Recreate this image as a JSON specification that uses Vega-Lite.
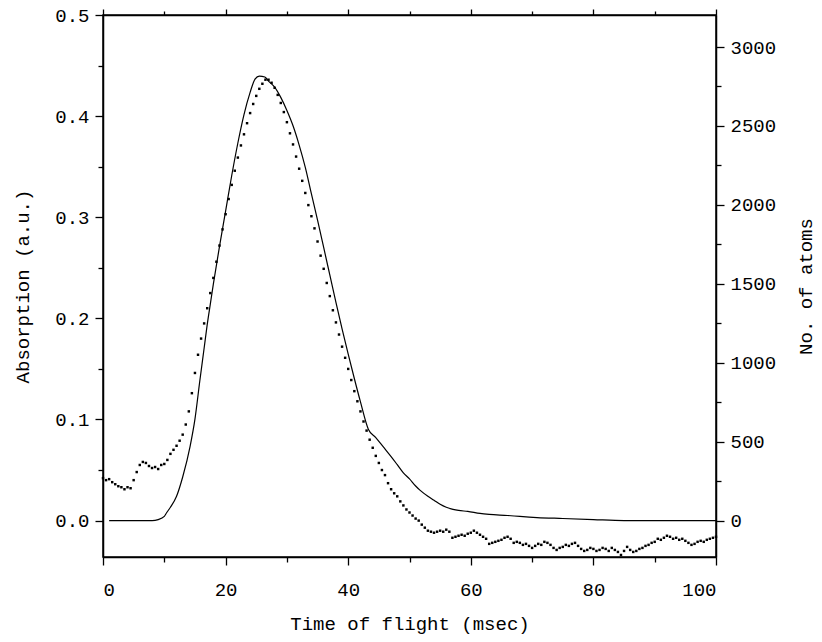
{
  "$schema": "https://vega.github.io/schema/vega-lite/v6.json",
  "width": 613,
  "height": 542,
  "autosize": {"type": "none"},
  "padding": {"left": 103, "top": 15, "right": 106, "bottom": 85},
  "background": "white",
  "config": {
    "view": {"stroke": "black", "strokeWidth": 1.5},
    "axis": {
      "labelFont": "Liberation Mono", "titleFont": "Liberation Mono",
      "labelFontSize": 19, "titleFontSize": 19, "titleFontWeight": "normal",
      "labelColor": "black", "titleColor": "black", "domainColor": "black", "tickColor": "black",
      "grid": false, "domainWidth": 1.5, "tickWidth": 1.3, "labelOverlap": false
    }
  },
  "datasets": {
    "abs": [
      {"t":0,"a":0.042},{"t":0.5,"a":0.040},{"t":1,"a":0.041},{"t":1.5,"a":0.038},{"t":2,"a":0.036},{"t":2.5,"a":0.034},{"t":3,"a":0.033},{"t":3.5,"a":0.031},{"t":4,"a":0.033},{"t":4.5,"a":0.032},
      {"t":5,"a":0.040},{"t":5.5,"a":0.048},{"t":6,"a":0.055},{"t":6.5,"a":0.058},{"t":7,"a":0.057},{"t":7.5,"a":0.054},{"t":8,"a":0.052},{"t":8.5,"a":0.053},{"t":9,"a":0.051},{"t":9.5,"a":0.055},
      {"t":10,"a":0.056},{"t":10.5,"a":0.060},{"t":11,"a":0.066},{"t":11.5,"a":0.070},{"t":12,"a":0.074},{"t":12.5,"a":0.079},{"t":13,"a":0.085},{"t":13.5,"a":0.095},{"t":14,"a":0.108},{"t":14.5,"a":0.126},
      {"t":15,"a":0.146},{"t":15.5,"a":0.164},{"t":16,"a":0.180},{"t":16.5,"a":0.195},{"t":17,"a":0.210},{"t":17.5,"a":0.225},{"t":18,"a":0.240},{"t":18.5,"a":0.256},{"t":19,"a":0.272},{"t":19.5,"a":0.288},
      {"t":20,"a":0.303},{"t":20.5,"a":0.318},{"t":21,"a":0.332},{"t":21.5,"a":0.346},{"t":22,"a":0.359},{"t":22.5,"a":0.371},{"t":23,"a":0.382},{"t":23.5,"a":0.393},{"t":24,"a":0.403},{"t":24.5,"a":0.412},
      {"t":25,"a":0.420},{"t":25.5,"a":0.427},{"t":26,"a":0.432},{"t":26.5,"a":0.436},{"t":27,"a":0.436},{"t":27.5,"a":0.433},{"t":28,"a":0.428},{"t":28.5,"a":0.421},{"t":29,"a":0.413},{"t":29.5,"a":0.404},
      {"t":30,"a":0.394},{"t":30.5,"a":0.383},{"t":31,"a":0.372},{"t":31.5,"a":0.360},{"t":32,"a":0.348},{"t":32.5,"a":0.336},{"t":33,"a":0.324},{"t":33.5,"a":0.312},{"t":34,"a":0.301},{"t":34.5,"a":0.289},
      {"t":35,"a":0.276},{"t":35.5,"a":0.262},{"t":36,"a":0.249},{"t":36.5,"a":0.235},{"t":37,"a":0.222},{"t":37.5,"a":0.208},{"t":38,"a":0.196},{"t":38.5,"a":0.184},{"t":39,"a":0.172},{"t":39.5,"a":0.161},
      {"t":40,"a":0.150},{"t":40.5,"a":0.139},{"t":41,"a":0.128},{"t":41.5,"a":0.118},{"t":42,"a":0.108},{"t":42.5,"a":0.098},{"t":43,"a":0.089},{"t":43.5,"a":0.080},{"t":44,"a":0.072},{"t":44.5,"a":0.064},
      {"t":45,"a":0.057},{"t":45.5,"a":0.050},{"t":46,"a":0.045},{"t":46.5,"a":0.037},{"t":47,"a":0.031},{"t":47.5,"a":0.027},{"t":48,"a":0.024},{"t":48.5,"a":0.019},{"t":49,"a":0.015},{"t":49.5,"a":0.011},
      {"t":50,"a":0.008},{"t":50.5,"a":0.005},{"t":51,"a":0.002},{"t":51.5,"a":0.000},{"t":52,"a":-0.004},{"t":52.5,"a":-0.007},{"t":53,"a":-0.010},{"t":53.5,"a":-0.011},{"t":54,"a":-0.012},{"t":54.5,"a":-0.011},
      {"t":55,"a":-0.010},{"t":55.5,"a":-0.011},{"t":56,"a":-0.009},{"t":56.5,"a":-0.011},{"t":57,"a":-0.017},{"t":57.5,"a":-0.016},{"t":58,"a":-0.015},{"t":58.5,"a":-0.014},{"t":59,"a":-0.015},{"t":59.5,"a":-0.013},
      {"t":60,"a":-0.012},{"t":60.5,"a":-0.010},{"t":61,"a":-0.012},{"t":61.5,"a":-0.014},{"t":62,"a":-0.016},{"t":62.5,"a":-0.018},{"t":63,"a":-0.023},{"t":63.5,"a":-0.022},{"t":64,"a":-0.021},{"t":64.5,"a":-0.020},
      {"t":65,"a":-0.019},{"t":65.5,"a":-0.017},{"t":66,"a":-0.016},{"t":66.5,"a":-0.018},{"t":67,"a":-0.022},{"t":67.5,"a":-0.021},{"t":68,"a":-0.022},{"t":68.5,"a":-0.024},{"t":69,"a":-0.023},{"t":69.5,"a":-0.025},
      {"t":70,"a":-0.027},{"t":70.5,"a":-0.025},{"t":71,"a":-0.023},{"t":71.5,"a":-0.024},{"t":72,"a":-0.021},{"t":72.5,"a":-0.022},{"t":73,"a":-0.024},{"t":73.5,"a":-0.027},{"t":74,"a":-0.029},{"t":74.5,"a":-0.027},
      {"t":75,"a":-0.026},{"t":75.5,"a":-0.024},{"t":76,"a":-0.025},{"t":76.5,"a":-0.023},{"t":77,"a":-0.022},{"t":77.5,"a":-0.025},{"t":78,"a":-0.028},{"t":78.5,"a":-0.030},{"t":79,"a":-0.029},{"t":79.5,"a":-0.027},
      {"t":80,"a":-0.028},{"t":80.5,"a":-0.030},{"t":81,"a":-0.029},{"t":81.5,"a":-0.027},{"t":82,"a":-0.028},{"t":82.5,"a":-0.030},{"t":83,"a":-0.027},{"t":83.5,"a":-0.029},{"t":84,"a":-0.031},{"t":84.5,"a":-0.034},
      {"t":85,"a":-0.030},{"t":85.5,"a":-0.026},{"t":86,"a":-0.029},{"t":86.5,"a":-0.031},{"t":87,"a":-0.030},{"t":87.5,"a":-0.028},{"t":88,"a":-0.027},{"t":88.5,"a":-0.025},{"t":89,"a":-0.024},{"t":89.5,"a":-0.022},
      {"t":90,"a":-0.021},{"t":90.5,"a":-0.018},{"t":91,"a":-0.019},{"t":91.5,"a":-0.017},{"t":92,"a":-0.015},{"t":92.5,"a":-0.016},{"t":93,"a":-0.018},{"t":93.5,"a":-0.017},{"t":94,"a":-0.019},{"t":94.5,"a":-0.018},
      {"t":95,"a":-0.020},{"t":95.5,"a":-0.022},{"t":96,"a":-0.024},{"t":96.5,"a":-0.023},{"t":97,"a":-0.021},{"t":97.5,"a":-0.020},{"t":98,"a":-0.021},{"t":98.5,"a":-0.019},{"t":99,"a":-0.018},{"t":99.5,"a":-0.017},
      {"t":100,"a":-0.016}
    ],
    "atoms": [
      {"t":1,"n":0},{"t":8,"n":0},{"t":9,"n":6},{"t":10,"n":26},{"t":10.4,"n":51},{"t":11,"n":84},{"t":12,"n":154},{"t":13,"n":276},{"t":14.2,"n":469},{"t":15,"n":643},
      {"t":15.8,"n":887},{"t":16.5,"n":1093},{"t":17,"n":1241},{"t":17.5,"n":1370},{"t":18,"n":1498},{"t":19,"n":1736},{"t":20,"n":1961},{"t":21,"n":2186},{"t":22,"n":2392},{"t":23,"n":2572},
      {"t":24,"n":2713},{"t":24.8,"n":2797},{"t":25.5,"n":2816},{"t":26.4,"n":2810},{"t":27,"n":2784},{"t":28,"n":2746},{"t":29,"n":2681},{"t":30,"n":2598},{"t":31,"n":2501},{"t":32,"n":2379},
      {"t":33,"n":2238},{"t":34,"n":2070},{"t":35,"n":1903},{"t":36,"n":1730},{"t":37,"n":1556},{"t":38,"n":1382},{"t":39,"n":1215},{"t":40,"n":1055},{"t":41,"n":900},{"t":42,"n":752},
      {"t":43.3,"n":577},{"t":44.5,"n":526},{"t":45.7,"n":468},{"t":47,"n":405},{"t":48,"n":354},{"t":49,"n":302},{"t":50,"n":264},{"t":51,"n":219},{"t":51.7,"n":193},
      {"t":53,"n":154},{"t":54,"n":129},{"t":55,"n":103},{"t":56,"n":84},{"t":57.1,"n":71},{"t":58,"n":64},{"t":59.5,"n":58},{"t":61.5,"n":45},{"t":63,"n":39},{"t":66,"n":32},
      {"t":68,"n":26},{"t":70.8,"n":19},{"t":75,"n":13},{"t":80,"n":6},{"t":85,"n":0},{"t":100,"n":0}
    ]
  },
  "layer": [
    {
      "data": {"name": "abs"},
      "mark": {"type": "square", "size": 6, "color": "black", "filled": true, "opacity": 1},
      "encoding": {
        "x": {"field": "t", "type": "quantitative", "scale": {"domain": [0, 100], "nice": false, "zero": false},
          "axis": {"orient": "bottom", "title": "Time of flight (msec)",
            "values": [0,10,20,30,40,50,60,70,80,90,100],
            "labelExpr": "datum.value % 20 === 0 ? datum.label : ''",
            "tickSize": {"condition": {"test": "datum.value % 20 === 0", "value": 8}, "value": 5},
            "labelPadding": 15, "titlePadding": 15}},
        "y": {"field": "a", "type": "quantitative", "scale": {"domain": [-0.036, 0.5], "nice": false, "zero": false},
          "axis": {"orient": "left", "title": "Absorption (a.u.)", "format": ".1f",
            "values": [0,0.05,0.1,0.15,0.2,0.25,0.3,0.35,0.4,0.45,0.5],
            "labelExpr": "round(datum.value*100) % 10 === 0 ? datum.label : ''",
            "tickSize": {"condition": {"test": "round(datum.value*100) % 10 === 0", "value": 8}, "value": 5},
            "labelPadding": 6, "titlePadding": 22}}
      }
    },
    {
      "data": {"name": "atoms"},
      "mark": {"type": "line", "color": "black", "strokeWidth": 1.2, "interpolate": "monotone"},
      "encoding": {
        "x": {"field": "t", "type": "quantitative", "scale": {"domain": [0, 100], "nice": false, "zero": false},
          "axis": {"orient": "top", "title": null, "labels": false,
            "values": [0,10,20,30,40,50,60,70,80,90,100],
            "tickSize": {"condition": {"test": "datum.value % 20 === 0", "value": 6}, "value": 4}}},
        "y": {"field": "n", "type": "quantitative", "scale": {"domain": [-231, 3203], "nice": false, "zero": false},
          "axis": {"orient": "right", "title": "No. of atoms", "titleAngle": 270,
            "values": [0,250,500,750,1000,1250,1500,1750,2000,2250,2500,2750,3000],
            "labelExpr": "datum.value % 500 === 0 ? datum.label : ''",
            "format": "d",
            "tickSize": {"condition": {"test": "datum.value % 500 === 0", "value": 8}, "value": 5},
            "labelPadding": 6, "titlePadding": 40}}
      }
    }
  ],
  "resolve": {"scale": {"y": "independent"}, "axis": {"x": "independent"}}
}
